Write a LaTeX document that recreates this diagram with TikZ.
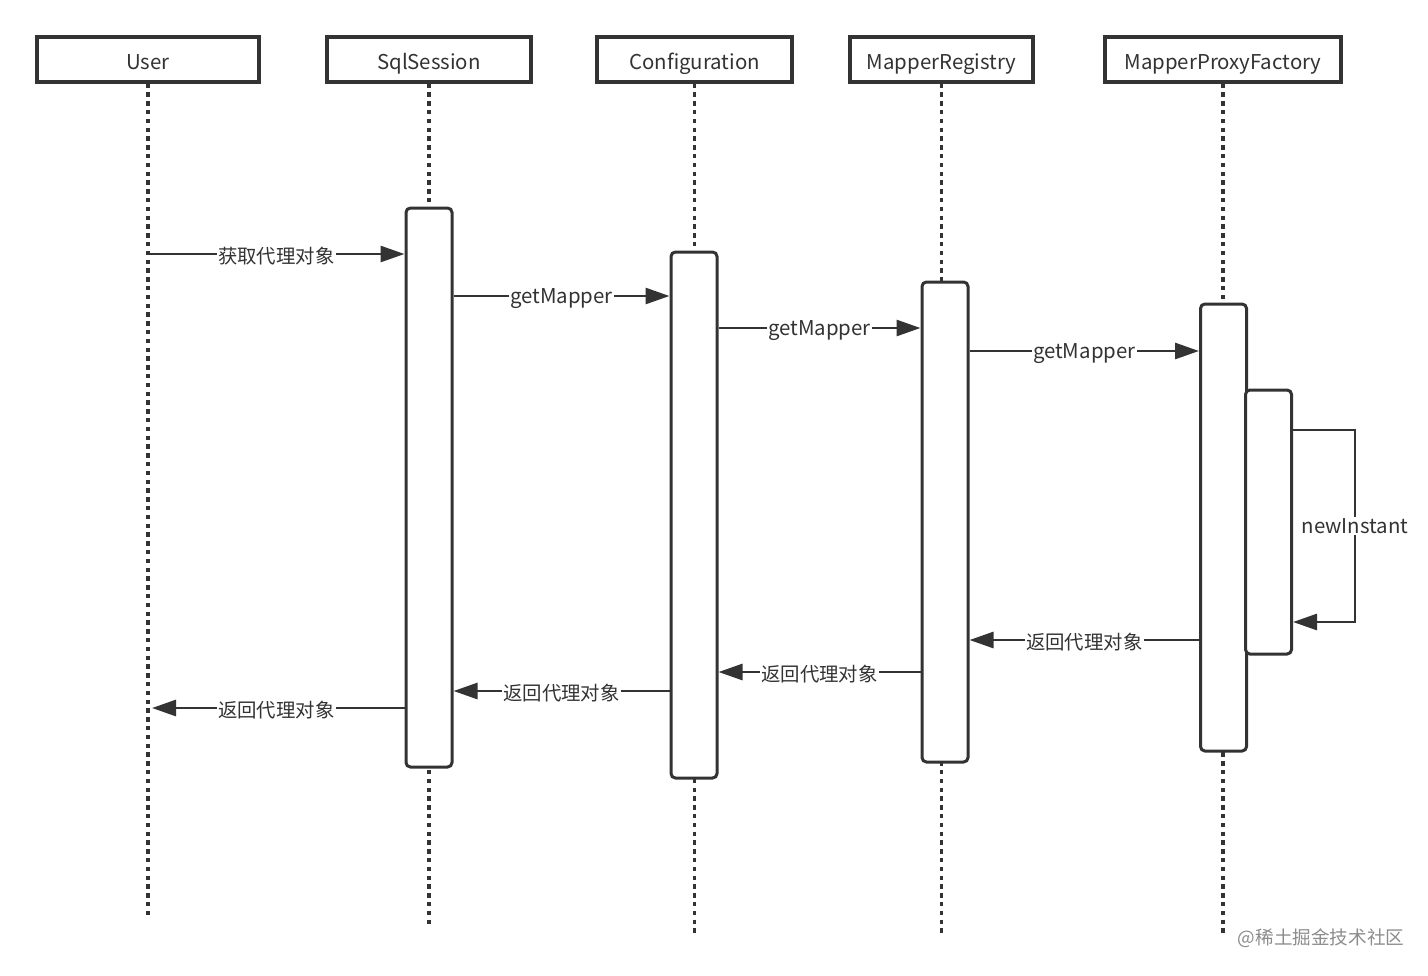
\documentclass[tikz,border=0pt]{standalone}
\usepackage{fontspec}
\setmainfont{Noto Sans CJK SC}
\usetikzlibrary{arrows.meta}
\definecolor{ink}{HTML}{333333}
\newcommand{\hdrtext}[1]{\raisebox{-4.9pt}[0pt][0pt]{#1}}
\begin{document}
\begin{tikzpicture}[x=0.5pt,y=-0.5pt,
  hdr/.style={draw=ink,line width=1.6pt,fill=white,minimum height=22.5pt,inner sep=0pt,font=\fontsize{10.2}{12}\selectfont,text=ink},
  act/.style={draw=ink,line width=1.5pt,fill=white,rounded corners=2.2pt,minimum width=23pt,inner sep=0pt},
  life/.style={draw=ink,line width=1.6pt,dash pattern=on 2.2pt off 2.2pt},
  msg/.style={draw=ink,line width=1.4pt,-{Triangle[length=12pt,width=8pt]}},
  lbl/.style={fill=white,inner sep=0.6pt,text=ink,font=\fontsize{10.2}{12}\selectfont,yshift=-1.2pt},
  clbl/.style={lbl,font=\fontsize{9.7}{12}\selectfont}
]
\useasboundingbox (0,0) rectangle (1428,975);
% headers
\node[hdr,minimum width=111pt] (user) at (148,59.5) {\hdrtext{User}};
\node[hdr,minimum width=102pt] (sqls) at (429,59.5) {\hdrtext{SqlSession}};
\node[hdr,minimum width=97.5pt] (conf) at (694.5,59.5) {\hdrtext{Configuration}};
\node[hdr,minimum width=91.5pt] (mreg) at (941.5,59.5) {\hdrtext{MapperRegistry}};
\node[hdr,minimum width=118pt] (mpf) at (1223,59.5) {\hdrtext{MapperProxyFactory}};
% lifeline ends
\coordinate (userE) at (148,915);
\coordinate (sqlsE) at (429,927);
\coordinate (confE) at (694.5,937);
\coordinate (mregE) at (941.5,937);
\coordinate (mpfE) at (1223,937);
\draw[life] (user.south) -- (userE);
\draw[life] (sqls.south) -- (sqlsE);
\draw[life] (conf.south) -- (confE);
\draw[life] (mreg.south) -- (mregE);
\draw[life] (mpf.south) -- (mpfE);
% activations
\node[act,minimum height=279.5pt] (aS) at (429,487.5) {};
\node[act,minimum height=263pt] (aC) at (694,515) {};
\node[act,minimum height=240pt] (aR) at (945,522) {};
\node[act,minimum height=223.5pt] (aP) at (1223.5,527.5) {};
\node[act,minimum height=132pt] (aN) at (1268.5,522) {};
% message rows
\coordinate (m1) at (0,254);
\coordinate (m2) at (0,296);
\coordinate (m3) at (0,328);
\coordinate (m4) at (0,351);
\coordinate (s1) at (0,430);
\coordinate (s2) at (0,622);
\coordinate (r1) at (0,640);
\coordinate (r2) at (0,672);
\coordinate (r3) at (0,691);
\coordinate (r4) at (0,708);
\coordinate (selfx) at (1355,0);
\draw[msg] (user.south |- m1) -- node[clbl]{获取代理对象} (aS.west |- m1);
\draw[msg] (aS.east |- m2) -- node[lbl]{getMapper} (aC.west |- m2);
\draw[msg] (aC.east |- m3) -- node[lbl]{getMapper} (aR.west |- m3);
\draw[msg] (aR.east |- m4) -- node[lbl]{getMapper} (aP.west |- m4);
\draw[msg] (aN.east |- s1) -- (selfx |- s1) -- node[lbl,yshift=1.2pt]{newInstant} (selfx |- s2) -- (aN.east |- s2);
\draw[msg] (aP.west |- r1) -- node[clbl]{返回代理对象} (aR.east |- r1);
\draw[msg] (aR.west |- r2) -- node[clbl]{返回代理对象} (aC.east |- r2);
\draw[msg] (aC.west |- r3) -- node[clbl]{返回代理对象} (aS.east |- r3);
\draw[msg,shorten >=2pt] (aS.west |- r4) -- node[clbl]{返回代理对象} (user.south |- r4);
% watermark
\node[text=black!45,font=\fontsize{9.3}{11}\selectfont] (wm) at (1321,938) {@稀土掘金技术社区};
\end{tikzpicture}
\end{document}
